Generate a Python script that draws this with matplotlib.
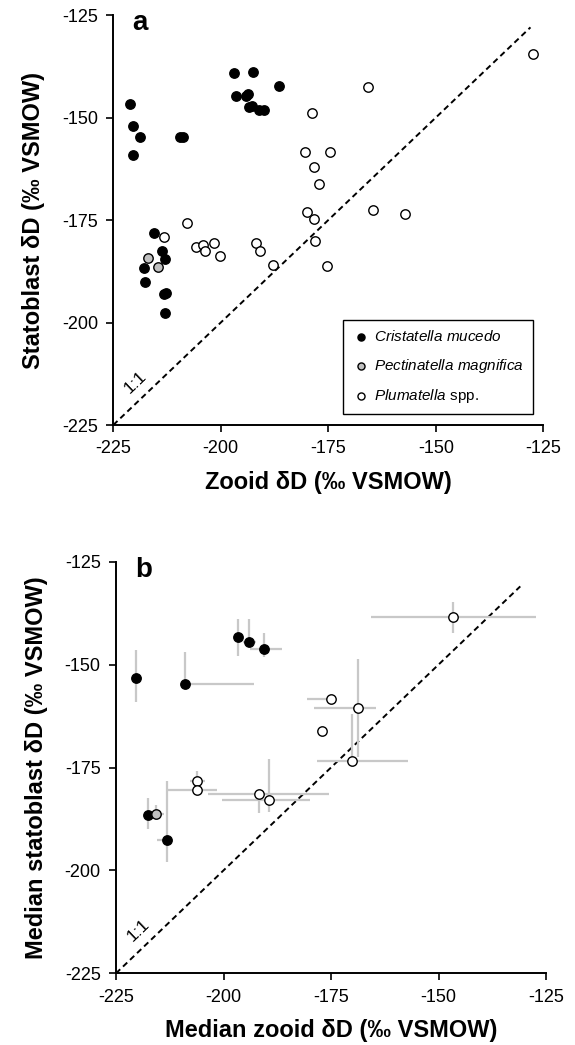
import matplotlib
matplotlib.use("Agg")
import matplotlib.pyplot as plt
import numpy as np

plt.rcParams["font.family"] = ["Liberation Sans", "DejaVu Sans"]
plt.rcParams["mathtext.fontset"] = "custom"
plt.rcParams["mathtext.it"] = "Liberation Sans:italic"
plt.rcParams["mathtext.rm"] = "Liberation Sans"
plt.rcParams["axes.unicode_minus"] = False

# ---- panel a: individual samples ----
cris_x = [-221.1, -220.3, -218.8, -220.3, -209.5, -208.9, -197.0, -192.4, -186.5,
          -196.4, -194.1, -193.6, -193.4, -192.7, -191.2, -190.0, -215.5, -213.7,
          -213.0, -217.8, -217.6, -213.1, -212.7, -213.0]
cris_y = [-146.6, -152.1, -154.7, -159.1, -154.8, -154.8, -139.1, -139.0, -142.3,
          -144.8, -144.8, -144.3, -147.5, -147.1, -148.2, -148.1, -178.1, -182.5,
          -184.6, -186.6, -190.0, -193.0, -192.9, -197.6]
pect_x = [-216.9, -214.7]
pect_y = [-184.3, -186.4]
plum_x = [-213.1, -207.9, -205.8, -204.1, -203.6, -201.6, -200.2, -191.7, -191.0,
          -187.9, -127.3, -165.8, -178.9, -180.4, -174.6, -178.3, -177.1, -180.0,
          -178.3, -164.5, -157.2, -178.0, -175.2]
plum_y = [-179.2, -175.8, -181.7, -181.1, -182.5, -180.7, -183.7, -180.7, -182.6,
          -186.0, -134.6, -142.6, -148.8, -158.5, -158.4, -162.0, -166.3, -173.1,
          -174.8, -172.5, -173.5, -180.0, -186.1]

# ---- panel b: medians with ranges ----
cris_mx = [-220.4, -209.0, -196.6, -194.1, -190.7, -217.6, -213.2]
cris_my = [-153.3, -154.7, -143.4, -144.6, -146.1, -186.5, -192.7]
cris_xlo = [-220.4, -209.0, -196.6, -195.4, -193.8, -218.5, -215.4]
cris_xhi = [-219.0, -192.9, -196.6, -192.5, -186.4, -217.6, -213.2]
cris_ylo = [-159.2, -154.7, -147.8, -144.8, -148.2, -190.0, -198.0]
cris_yhi = [-146.5, -147.0, -139.0, -139.0, -142.4, -182.5, -178.3]

pect_mx = [-215.8]
pect_my = [-186.3]
pect_xlo = [-217.1]
pect_xhi = [-213.8]
pect_ylo = [-187.8]
pect_yhi = [-184.1]

plum_mx = [-146.6, -175.1, -168.7, -177.2, -170.1, -206.1, -206.1, -191.7, -189.5]
plum_my = [-138.5, -158.3, -160.5, -166.2, -173.4, -178.3, -180.5, -181.4, -183.0]
plum_xlo = [-165.8, -180.5, -179.0, -177.2, -178.3, -207.8, -213.1, -203.5, -200.3]
plum_xhi = [-127.4, -175.1, -164.5, -177.2, -157.2, -204.3, -201.6, -175.4, -180.0]
plum_ylo = [-142.4, -158.3, -172.4, -166.2, -173.4, -178.3, -180.5, -186.1, -185.7]
plum_yhi = [-134.7, -158.3, -148.6, -166.2, -162.0, -175.8, -180.5, -180.7, -173.0]

ticks = [-225, -200, -175, -150, -125]

fig = plt.figure(figsize=(5.75, 10.45), dpi=100)
ax1 = fig.add_axes([0.197, 0.5933, 0.748, 0.3923])
ax2 = fig.add_axes([0.2017, 0.0686, 0.748, 0.3939])


def style(ax, xlabel, ylabel, letter, line_end):
    ax.set_xlim(-225, -125)
    ax.set_ylim(-225, -125)
    ax.set_xticks(ticks)
    ax.set_yticks(ticks)
    ax.tick_params(direction="out", length=5, width=1.2, labelsize=13, pad=6)
    for s in ["top", "right"]:
        ax.spines[s].set_visible(False)
    for s in ["left", "bottom"]:
        ax.spines[s].set_linewidth(1.4)
    ax.plot([-225, line_end], [-225, line_end], "--", color="black", lw=1.4,
            dashes=(3, 2), zorder=1, clip_on=False)
    ax.text(-219.8, -214.5, "1:1", rotation=43.6, fontsize=12.5,
            ha="center", va="center")
    ax.text(-220.5, -127, letter, fontsize=20, fontweight="bold", va="center")
    ax.set_xlabel(xlabel, fontsize=17, fontweight="bold", labelpad=10)
    ax.set_ylabel(ylabel, fontsize=17, fontweight="bold", labelpad=12)


style(ax1, "Zooid \u03b4D (\u2030 VSMOW)", "Statoblast \u03b4D (\u2030 VSMOW)", "a", -128)
style(ax2, "Median zooid \u03b4D (\u2030 VSMOW)",
      "Median statoblast \u03b4D (\u2030 VSMOW)", "b", -131)

mk = dict(s=46, edgecolors="black", linewidths=1.0, zorder=3, clip_on=False)
ax1.scatter(cris_x, cris_y, c="black", label="$\\it{Cristatella\\ mucedo}$", **mk)
ax1.scatter(pect_x, pect_y, c="#c0c0c0", label="$\\it{Pectinatella\\ magnifica}$", **mk)
ax1.scatter(plum_x, plum_y, c="white", label="$\\it{Plumatella}$ spp.", **mk)

leg = ax1.legend(loc="lower right", bbox_to_anchor=(0.976, 0.027), fontsize=11,
                 frameon=True, fancybox=False, edgecolor="black", framealpha=1,
                 handletextpad=0.25, borderpad=0.6, labelspacing=0.8,
                 handlelength=1.2, markerscale=0.75, borderaxespad=0)
leg.get_frame().set_linewidth(1.0)

for mx, my, xlo, xhi, ylo, yhi, fc in [
    (cris_mx, cris_my, cris_xlo, cris_xhi, cris_ylo, cris_yhi, "black"),
    (pect_mx, pect_my, pect_xlo, pect_xhi, pect_ylo, pect_yhi, "#c0c0c0"),
    (plum_mx, plum_my, plum_xlo, plum_xhi, plum_ylo, plum_yhi, "white"),
]:
    mx = np.array(mx)
    my = np.array(my)
    xerr = [mx - np.array(xlo), np.array(xhi) - mx]
    yerr = [my - np.array(ylo), np.array(yhi) - my]
    ax2.errorbar(mx, my, xerr=xerr, yerr=yerr, fmt="none", ecolor="#c8c8c8",
                 elinewidth=1.6, capsize=0, zorder=2)
    ax2.scatter(mx, my, c=fc, **mk)

fig.savefig("out.png", dpi=100)
